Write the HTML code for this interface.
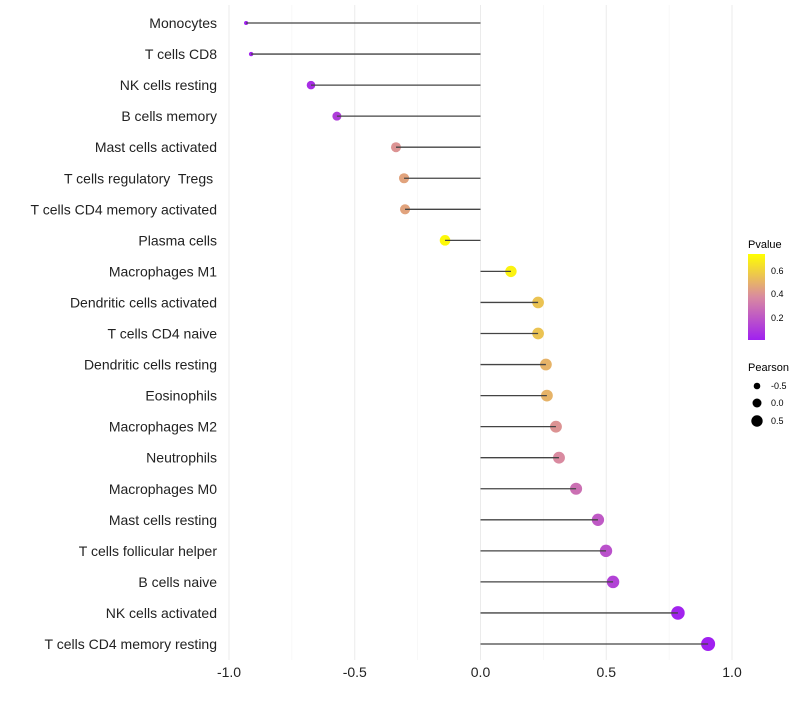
<!DOCTYPE html>
<html><head><meta charset="utf-8"><style>
body{margin:0;background:#fff;}
svg{font-family:"Liberation Sans",sans-serif;}
text{white-space:pre;}
</style></head><body>
<svg id="chart" width="800" height="700" xmlns="http://www.w3.org/2000/svg">
<g id="grid"></g>
<g id="marks"></g>
<g id="ylabels"></g>
<g id="xlabels"></g>
<g>
<defs><linearGradient id="pg" x1="0" y1="1" x2="0" y2="0">
<stop offset="0" stop-color="#a020f0"/><stop offset="0.5" stop-color="#d98aa0"/><stop offset="1" stop-color="#ffff00"/></linearGradient></defs>
<text x="748" y="248" font-size="11">Pvalue</text>
<rect x="748" y="254" width="17" height="86" fill="url(#pg)"/>
<text x="771" y="274" font-size="9">0.6</text>
<text x="771" y="297" font-size="9">0.4</text>
<text x="771" y="321" font-size="9">0.2</text>
<text x="748" y="371" font-size="11">Pearson</text>
<circle cx="757" cy="386" r="3.3" fill="#000"/>
<circle cx="757" cy="403" r="4.5" fill="#000"/>
<circle cx="757" cy="421" r="5.7" fill="#000"/>
<text x="771" y="389" font-size="9">-0.5</text>
<text x="771" y="406" font-size="9">0.0</text>
<text x="771" y="424" font-size="9">0.5</text>
</g>
</svg>
<script>
const categories=["Monocytes","T cells CD8","NK cells resting","B cells memory","Mast cells activated","T cells regulatory  Tregs ","T cells CD4 memory activated","Plasma cells","Macrophages M1","Dendritic cells activated","T cells CD4 naive","Dendritic cells resting","Eosinophils","Macrophages M2","Neutrophils","Macrophages M0","Mast cells resting","T cells follicular helper","B cells naive","NK cells activated","T cells CD4 memory resting"];
const pearson=[-0.932,-0.912,-0.674,-0.571,-0.336,-0.304,-0.300,-0.141,0.121,0.229,0.229,0.260,0.264,0.300,0.312,0.380,0.467,0.499,0.527,0.785,0.905];
const pvalues=[0.0,0.01,0.05,0.1,0.4,0.45,0.45,0.72,0.7,0.55,0.55,0.5,0.5,0.4,0.37,0.28,0.2,0.17,0.12,0.01,0.0];
const xticks=[-1,-0.5,0,0.5,1];
const xtickLabels=["-1.0","-0.5","0.0","0.5","1.0"];
const NS="http://www.w3.org/2000/svg";
const x=v=>480.5+v*251.5;
const y=i=>23+i*31.05;
const sizeDom=[-0.95,-0.67,-0.34,0.12,0.5,0.95];
const sizeRng=[1.9,4.3,5.0,5.7,6.2,7.1];
function rad(v){for(let k=1;k<sizeDom.length;k++){if(v<=sizeDom[k]){const u=(v-sizeDom[k-1])/(sizeDom[k]-sizeDom[k-1]);return sizeRng[k-1]+u*(sizeRng[k]-sizeRng[k-1]);}}return sizeRng[sizeRng.length-1];}
function col(p){const t=Math.max(0,Math.min(1,p/0.74));
 const a=[160,32,240],m=[217,138,160],b=[255,255,0];
 let c;if(t<0.5){const u=t/0.5;c=a.map((v,k)=>v+(m[k]-v)*u);}else{const u=(t-0.5)/0.5;c=m.map((v,k)=>v+(b[k]-v)*u);}
 return `rgb(${c.map(Math.round).join(",")})`;}
function mk(tag,at,parent){const e=document.createElementNS(NS,tag);for(const k in at)e.setAttribute(k,at[k]);document.getElementById(parent).appendChild(e);return e;}
for(let v=-1;v<=1.001;v+=0.25){const major=Math.abs(v*2-Math.round(v*2))<1e-6;
 const g=mk("line",{x1:x(v),x2:x(v),y1:5,y2:660,stroke:major?"#ebebeb":"#f4f4f4","stroke-width":major?1:0.6},"grid");
 
 }
xticks.forEach((v,i)=>{const t=mk("text",{x:x(v),y:677,"font-size":14,"text-anchor":"middle",fill:"#222"},"xlabels");t.textContent=xtickLabels[i];
 
 });
categories.forEach((c,i)=>{
 const t=mk("text",{x:217,y:y(i)+5,"font-size":14,"text-anchor":"end",fill:"#222"},"ylabels");t.textContent=c;
 
 
 const p=mk("circle",{cx:x(pearson[i]),cy:y(i),r:rad(pearson[i]),fill:col(pvalues[i])},"marks");
 
 
 const l=mk("line",{x1:x(0),x2:x(pearson[i]),y1:y(i),y2:y(i),stroke:"#444","stroke-width":1.3},"marks");
 
 
});
</script>
</body></html>
